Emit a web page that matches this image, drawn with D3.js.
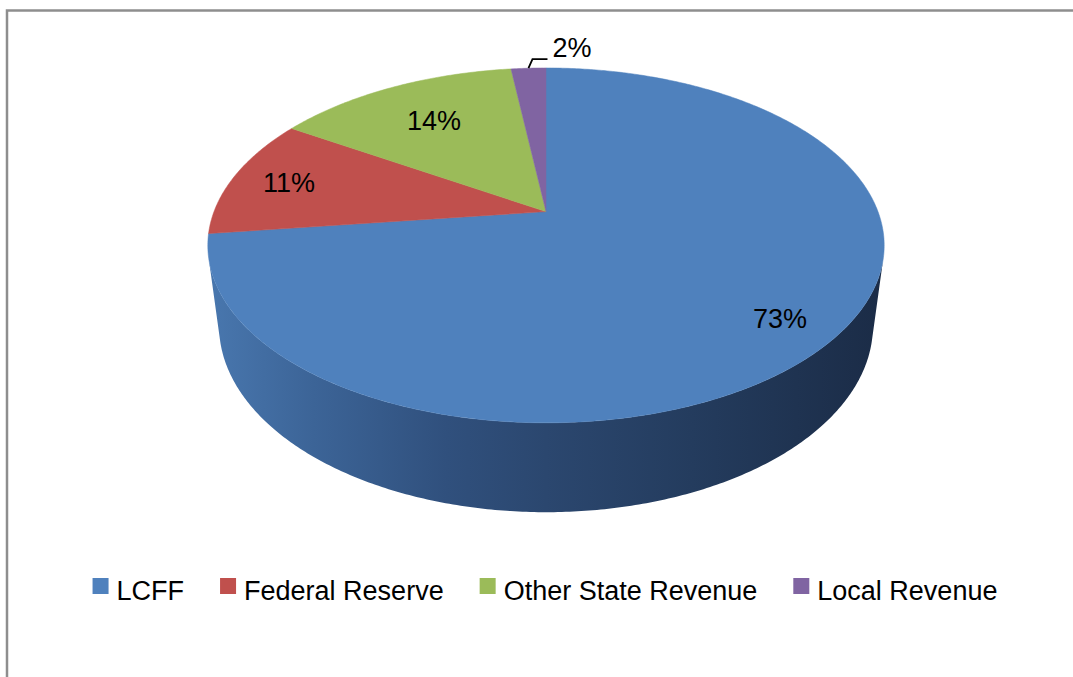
<!DOCTYPE html>
<html>
<head>
<meta charset="utf-8">
<script src="https://cdn.jsdelivr.net/npm/d3@7"></script>
<style>
  body { margin: 0; background: #fff; }
  svg { display: block; font-family: 'Liberation Sans', Arial, sans-serif; }
</style>
</head>
<body>
<div id="chart"></div>
<script>
// data
const categories = ['LCFF', 'Federal Reserve', 'Other State Revenue', 'Local Revenue'];
const shares = [73, 11, 14, 2];
const colors = ['#4F81BD', '#C0504D', '#9BBB59', '#8064A2'];

// layout
const width = 1073;
const height = 677;
const cx = 546;
const cy = 211.6;
const R = 332;          // disc radius (world units)
const depth = 96;       // slab thickness
const tilt = 31 * Math.PI / 180;
const dist = 1494;      // perspective distance
const labelRadius = [0.84, 0.82, 0.7, 1];
const fontSize = 27;

const svg = d3.select('#chart').append('svg')
  .attr('width', width)
  .attr('height', height);

// chart border (top + left visible)
svg.append('path')
  .attr('d', `M7,${height} V10.5 H${width}`)
  .attr('fill', 'none')
  .attr('stroke', '#8e8e8e')
  .attr('stroke-width', 2.5);

// project a point of the disc (angle from 12 o'clock, clockwise) to screen
function project(theta, r, z) {
  const x = r * Math.sin(theta);
  const y = r * Math.cos(theta);
  const v = z * Math.cos(tilt) + y * Math.sin(tilt);
  const w = y * Math.cos(tilt) - z * Math.sin(tilt);
  const s = dist / (dist + w);
  return [cx + x * s, cy - v * s];
}

function arcPoints(a0, a1, r, z) {
  const n = Math.max(2, Math.ceil(Math.abs(a1 - a0) / 0.01));
  return d3.range(n + 1).map(i => project(a0 + (a1 - a0) * i / n, r, z));
}

const data = categories.map((c, i) => ({ name: c, value: shares[i], color: colors[i] }));
const arcs = d3.pie().sort(null).value(d => d.value)(data);

const line = d3.line();

// visible part of the outer wall: cos(theta) < -R / (dist * cos(tilt))
const lim = Math.acos(-R / (dist * Math.cos(tilt)));
const visA = lim, visB = 2 * Math.PI - lim;

const defs = svg.append('defs');
const leftX = project(-Math.PI / 2, R, 0)[0];
const rightX = project(Math.PI / 2, R, 0)[0];
const grad = defs.append('linearGradient')
  .attr('id', 'sideGrad')
  .attr('gradientUnits', 'userSpaceOnUse')
  .attr('x1', leftX).attr('x2', rightX)
  .attr('y1', 0).attr('y2', 0);
[[0, '#4876ad'], [0.15, '#3c6497'], [0.35, '#30507d'], [0.5, '#2b476f'], [0.72, '#243c5e'], [1, '#1b2c47']]
  .forEach(([o, c]) => grad.append('stop').attr('offset', o).attr('stop-color', c));

const wall = svg.append('g');
arcs.forEach(a => {
  const a0 = Math.max(a.startAngle, visA);
  const a1 = Math.min(a.endAngle, visB);
  if (a1 <= a0) return;
  const top = arcPoints(a0, a1, R, 0);
  const bottom = arcPoints(a1, a0, R, -depth);
  wall.append('path')
    .attr('d', line(top.concat(bottom)) + 'Z')
    .attr('fill', a.index === 0 ? 'url(#sideGrad)' : d3.color(a.data.color).darker(1));
});

// top faces
const topG = svg.append('g');
topG.selectAll('path')
  .data(arcs)
  .join('path')
  .attr('d', a => line([[cx, cy]].concat(arcPoints(a.startAngle, a.endAngle, R, 0))) + 'Z')
  .attr('fill', a => a.data.color)
  .attr('stroke', a => a.data.color)
  .attr('stroke-width', 0.5);

// data labels
const labels = svg.append('g')
  .attr('font-size', fontSize)
  .attr('fill', '#000');

arcs.forEach(a => {
  const mid = (a.startAngle + a.endAngle) / 2;
  const txt = `${a.data.value}%`;
  if (a.data.value >= 5) {
    const [x, y] = project(mid, R * labelRadius[a.index], 0);
    labels.append('text')
      .attr('x', x)
      .attr('y', y)
      .attr('text-anchor', 'middle')
      .attr('dy', '0.36em')
      .text(txt);
  } else {
    // small slice: label outside with a leader line
    const p0 = project(mid, R, 0);
    const p1 = [p0[0] + 4, p0[1] - 9];
    const p2 = [p1[0] + 15, p1[1]];
    labels.append('path')
      .attr('d', line([p0, p1, p2]))
      .attr('fill', 'none')
      .attr('stroke', '#000')
      .attr('stroke-width', 1.8);
    labels.append('text')
      .attr('x', p2[0] + 5)
      .attr('y', p1[1] - 2)
      .attr('text-anchor', 'start')
      .text(txt);
  }
});

// legend
const legend = svg.append('g').attr('font-size', fontSize);
const sq = 16;
const gap = 36;
const items = legend.selectAll('g')
  .data(data)
  .join('g');
items.append('rect')
  .attr('width', sq).attr('height', sq)
  .attr('y', 578)
  .attr('fill', d => d.color);
items.append('text')
  .attr('x', 24)
  .attr('y', 600)
  .text(d => d.name);

let xPos = 0;
items.each(function () {
  const w = d3.select(this).select('text').node().getComputedTextLength();
  d3.select(this).attr('transform', `translate(${xPos},0)`);
  xPos += 24 + w + gap;
});
const total = xPos - gap;
legend.attr('transform', `translate(${545 - total / 2},0)`);
</script>
</body>
</html>
